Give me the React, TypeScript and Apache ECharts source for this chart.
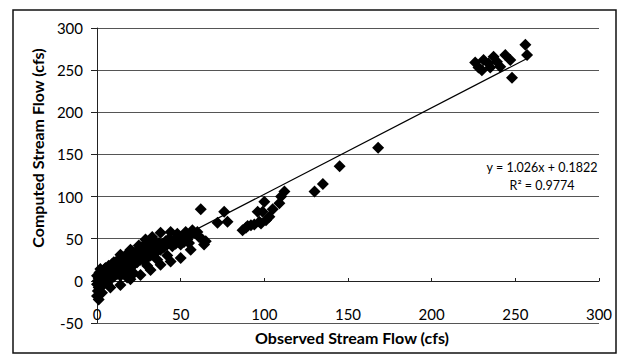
import React, { useEffect, useRef } from "react";
import * as echarts from "echarts";

// Observed vs computed stream flow (cfs)
const observed: number[] = [
  0, 0.5, 1, 0, 0.5, 1, 0, 1.5, 2, 2.5, 3, 3, 4, 4, 5, 5, 6, 6, 7, 7, 8, 8, 9, 9, 10, 10,
  11, 11, 12, 12, 13, 13, 14, 14, 15, 15, 16, 16, 17, 17, 18, 18, 19, 19, 20, 20, 21, 21,
  22, 22, 23, 24, 24, 25, 25, 26, 26, 27, 27, 28, 28, 29, 29, 30, 30, 31, 31, 32, 32, 33,
  34, 34, 35, 35, 36, 37, 37, 38, 39, 40, 41, 42, 43, 44, 45, 46, 47, 48, 49, 50, 51, 52,
  53, 54, 55, 56, 57, 58, 60, 61, 62, 63, 64, 65, 72, 76, 78, 87, 89, 90, 92, 94, 96, 97,
  98, 99, 100, 101, 103, 105, 109, 110, 112, 130, 135, 145, 168, 226, 228, 231, 230, 234,
  235, 237, 239, 241, 244, 247, 248, 256, 257,
  // extra spread inside the dense low-flow cloud
  1, 2, 3, 5, 10, 14, 20, 25, 29, 33, 38, 44, 48, 53, 14, 20, 26, 32, 38, 44, 50, 56,
  8, 18, 22, 30, 36, 42,
];
const computed: number[] = [
  -18, -12, -8, -4, 0, 3, 6, 10, -2, 4, 8, -6, 1, 12, 5, 15, -3, 9, 4, 18, 12, 2, 7, 20, 14, 5,
  22, 10, 8, 17, 25, 12, 6, 19, 27, 14, 10, 22, 30, 17, 13, 25, 20, 32, 16, 28, 23, 35,
  19, 30, 26, 34, 22, 29, 38, 25, 33, 40, 29, 24, 36, 32, 44, 27, 38, 34, 46, 30, 41, 37,
  48, 33, 43, 38, 35, 45, 40, 37, 44, 40, 47, 43, 50, 45, 41, 48, 44, 52, 47, 43, 50, 46,
  52, 49, 45, 55, 60, 57, 58, 52, 85, 49, 43, 47, 69, 82, 70, 60, 63, 65, 66, 67, 82, 70,
  68, 82, 94, 72, 76, 85, 92, 100, 106, 106, 115, 136, 158, 259, 253, 262, 250, 258,
  253, 266, 260, 254, 268, 262, 241, 280, 268,
  -22, 14, -14, 15, 22, 31, 37, 42, 49, 52, 57, 58, 56, 58, -5, 2, 7, 13, 19, 23, 27, 37,
  -8, 4, 9, 18, 25, 30,
];

// Linear trendline reported on the chart
const slope = 1.026;
const intercept = 0.1822;
const trendX: number[] = [0, 257];

const yTicks: number[] = [-50, 0, 50, 100, 150, 200, 250, 300];
const xTicks: number[] = [0, 50, 100, 150, 200, 250, 300];

const FONT = "Lato, 'Open Sans', sans-serif";

export default function App() {
  const ref = useRef<HTMLDivElement>(null);
  useEffect(() => {
    if (!ref.current) return;
    const chart = echarts.init(ref.current, undefined, { renderer: "svg" });
    const points = observed.map((x, i) => [x, computed[i]]);
    const trend = trendX.map((x) => [x, slope * x + intercept]);
    chart.setOption({
      animation: false,
      backgroundColor: "#ffffff",
      grid: { left: 97, top: 28, right: 25, bottom: 31 },
      xAxis: {
        type: "value",
        min: xTicks[0],
        max: xTicks[xTicks.length - 1],
        interval: 50,
        offset: -42,
        axisLine: { onZero: false, lineStyle: { color: "#222", width: 1 } },
        axisTick: { show: true, inside: true, length: 3, lineStyle: { color: "#222" } },
        axisLabel: { margin: 25, fontFamily: FONT, fontSize: 15, color: "#000" },
        splitLine: { show: false },
      },
      yAxis: {
        type: "value",
        min: yTicks[0],
        max: yTicks[yTicks.length - 1],
        interval: 50,
        axisLine: { show: true, onZero: false, lineStyle: { color: "#222", width: 1 } },
        axisTick: { show: true, length: 6, lineStyle: { color: "#222" } },
        axisLabel: { margin: 14, fontFamily: FONT, fontSize: 15, color: "#000" },
        splitLine: { show: true, lineStyle: { color: "#555", width: 1 } },
      },
      series: [
        {
          type: "scatter",
          data: points,
          symbol: "diamond",
          symbolSize: 12,
          itemStyle: { color: "#000", opacity: 1 },
        },
        {
          type: "line",
          data: trend,
          symbol: "none",
          lineStyle: { color: "#000", width: 1.2 },
        },
      ],
      graphic: [
        {
          type: "rect",
          shape: { x: 13, y: 10, width: 603, height: 343 },
          style: { fill: "none", stroke: "#111", lineWidth: 1.5 },
          silent: true,
        },
        {
          type: "text",
          x: 37,
          y: 148,
          rotation: Math.PI / 2,
          style: {
            text: "Computed Stream Flow (cfs)",
            fontFamily: FONT,
            fontSize: 16,
            fontWeight: "bold",
            fill: "#000",
            textAlign: "center",
            textVerticalAlign: "middle",
          },
        },
        {
          type: "text",
          x: 352,
          y: 337,
          style: {
            text: "Observed Stream Flow (cfs)",
            fontFamily: FONT,
            fontSize: 16,
            fontWeight: "bold",
            fill: "#000",
            textAlign: "center",
            textVerticalAlign: "middle",
          },
        },
        {
          type: "text",
          x: 542,
          y: 167,
          style: {
            text: "y = 1.026x + 0.1822",
            fontFamily: FONT,
            fontSize: 12.5,
            fill: "#000",
            textAlign: "center",
            textVerticalAlign: "middle",
          },
        },
        {
          type: "text",
          x: 542,
          y: 185,
          style: {
            text: "R² = 0.9774",
            fontFamily: FONT,
            fontSize: 12.5,
            fill: "#000",
            textAlign: "center",
            textVerticalAlign: "middle",
          },
        },
      ],
    });
    return () => chart.dispose();
  }, []);
  return (
    <div
      ref={ref}
      style={{ position: "fixed", left: 0, top: 0, width: 624, height: 354 }}
    />
  );
}
